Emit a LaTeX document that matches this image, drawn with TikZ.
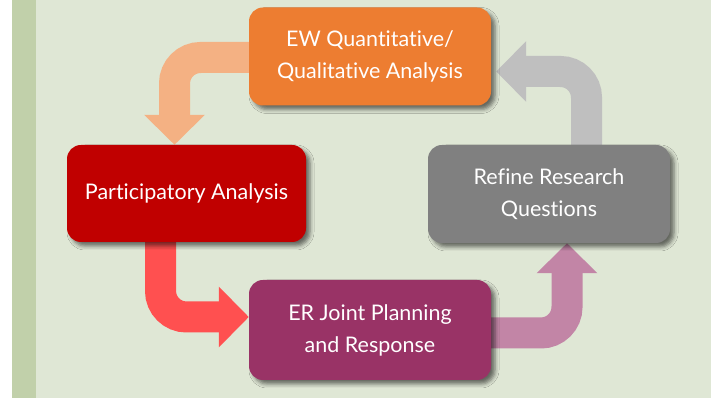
\documentclass[tikz,border=0pt]{standalone}
\usepackage{fontspec}
\setmainfont{Lato}[Ligatures=NoCommon]
\usepackage{tikz}
\usetikzlibrary{calc,positioning,arrows.meta,shadows.blur}
\definecolor{bglight}{RGB}{223,231,213}
\definecolor{bgstrip}{RGB}{193,208,170}
\definecolor{ewcol}{HTML}{ED7D31}
\definecolor{ewarr}{HTML}{F4B183}
\definecolor{pacol}{HTML}{C00000}
\definecolor{paarr}{HTML}{FF5050}
\definecolor{ercol}{HTML}{993366}
\definecolor{erarr}{HTML}{C285A6}
\definecolor{rrcol}{HTML}{808080}
\definecolor{rrarr}{HTML}{BFBFBF}
\pgfdeclarelayer{back}
\pgfdeclarelayer{mid}
\pgfsetlayers{back,mid,main}

\begin{document}
\begin{tikzpicture}[x=1pt,y=1pt,
  box/.style={rounded corners=14pt,minimum width=242pt,minimum height=98pt,text=white,align=center,font=\fontsize{21.5}{32}\selectfont,blur shadow={shadow xshift=4pt,shadow yshift=-4pt,shadow blur radius=4pt,shadow opacity=55}},
  band/.style={line width=31pt,rounded corners=26pt,-{Triangle[length=30pt,width=59pt]}}]
  \useasboundingbox (0,0) rectangle (711,398);
  \node[box,fill=ewcol] (ew) at (370,341.5) {EW Quantitative/\\Qualitative Analysis};
  \node[box,fill=pacol,minimum width=239pt,minimum height=97pt] (pa) at (186.5,204.5) {Participatory Analysis};
  \node[box,fill=ercol,minimum height=100pt] (er) at (370,68) {ER Joint Planning\\and Response};
  \node[box,fill=rrcol] (rr) at (549,204) {Refine Research\\Questions};

  \begin{pgfonlayer}{back}
  \fill[white] (0,0) rectangle (711,398);
  \fill[bgstrip] (12,0) rectangle (36,398);
  \fill[bglight] (36,0) rectangle (711,398);
  \end{pgfonlayer}

  \begin{pgfonlayer}{mid}
  \draw[band,draw=ewarr] ([yshift=-1pt]ew.west) -| ([xshift=-12pt]pa.north);
  \draw[band,draw=paarr] ([xshift=-26pt]pa.south) |- ([yshift=13pt]er.west);
  \draw[band,draw=erarr] ([yshift=-3pt]er.east) -| ([xshift=18pt]rr.south);
  \draw[band,draw=rrarr] ([xshift=37.5pt]rr.north) |- ([xshift=5pt,yshift=-15pt]ew.east);
  \end{pgfonlayer}
\end{tikzpicture}
\end{document}
